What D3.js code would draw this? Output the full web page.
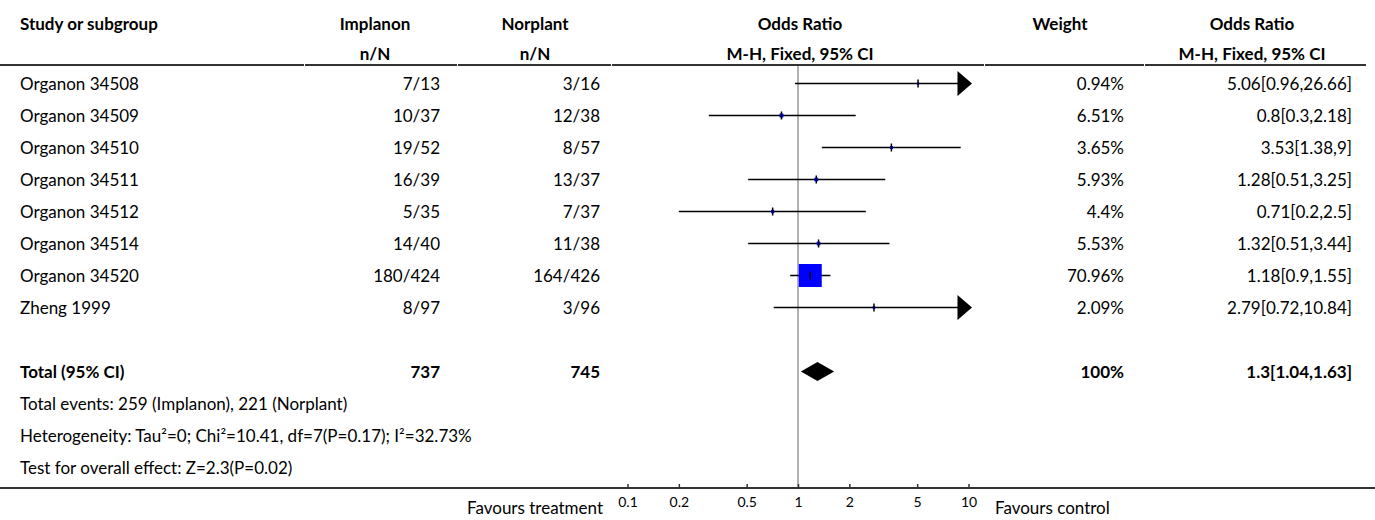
<!DOCTYPE html>
<html>
<head>
<meta charset="utf-8">
<script src="https://cdn.jsdelivr.net/npm/d3@7"></script>
<style>
  body { margin: 0; background: #fff; }
  svg { display: block; font-family: Lato, "Noto Sans", sans-serif; }
  .bold { font-weight: bold; }
  .tick text { font-size: 14px; font-family: Lato, sans-serif; fill: #000; }
</style>
</head>
<body>
<svg id="chart"></svg>
<script>
  // data
  var studies = ["Organon 34508", "Organon 34509", "Organon 34510", "Organon 34511",
    "Organon 34512", "Organon 34514", "Organon 34520", "Zheng 1999"];
  var implanonEvents = [7, 10, 19, 16, 5, 14, 180, 8];
  var implanonTotals = [13, 37, 52, 39, 35, 40, 424, 97];
  var norplantEvents = [3, 12, 8, 13, 7, 11, 164, 3];
  var norplantTotals = [16, 38, 57, 37, 37, 38, 426, 96];
  var oddsRatios = [5.06, 0.8, 3.53, 1.28, 0.71, 1.32, 1.18, 2.79];
  var ciLower = [0.96, 0.3, 1.38, 0.51, 0.2, 0.51, 0.9, 0.72];
  var ciUpper = [26.66, 2.18, 9, 3.25, 2.5, 3.44, 1.55, 10.84];
  var weights = [0.94, 6.51, 3.65, 5.93, 4.4, 5.53, 70.96, 2.09];

  var total = { label: "Total (95% CI)", implanon: 737, norplant: 745, weight: 100, or: 1.3, lo: 1.04, hi: 1.63 };
  var footnotes = [
    "Total events: 259 (Implanon), 221 (Norplant)",
    "Heterogeneity: Tau\u00b2=0; Chi\u00b2=10.41, df=7(P=0.17); I\u00b2=32.73%",
    "Test for overall effect: Z=2.3(P=0.02)"
  ];
  var axisTicks = [0.1, 0.2, 0.5, 1, 2, 5, 10];

  var width = 1375, height = 520;
  var fontSize = 17;
  var boldSize = 17;

  var svg = d3.select("#chart").attr("width", width).attr("height", height);

  // columns
  var colStudy = 20;
  var colImplanon = { center: 375, right: 440 };
  var colNorplant = { center: 535, right: 600 };
  var colPlot = { center: 800 };
  var colWeight = { center: 1060, right: 1124 };
  var colOR = { center: 1252, right: 1352 };

  var x = d3.scaleLog().domain([0.1, 10]).range([627.5, 968.5]);
  var rowY = d3.scaleLinear().domain([0, 1]).range([83.5, 115.5]);
  var boxSize = d3.scaleLinear().domain([0, 71]).range([2, 23]);

  function text(g, str, xPos, yPos, anchor, bold) {
    return g.append("text")
      .attr("x", xPos)
      .attr("y", yPos)
      .attr("text-anchor", anchor)
      .attr("dominant-baseline", "central")
      .attr("font-size", bold ? boldSize : fontSize)
      .attr("fill", "#000")
      .classed("bold", !!bold)
      .text(str);
  }

  /***** header *****/
  var header = svg.append("g");
  text(header, "Study or subgroup", colStudy, 23, "start", true);
  text(header, "Implanon", colImplanon.center, 23, "middle", true);
  text(header, "n/N", colImplanon.center, 53, "middle", true);
  text(header, "Norplant", colNorplant.center, 23, "middle", true);
  text(header, "n/N", colNorplant.center, 53, "middle", true);
  text(header, "Odds Ratio", colPlot.center, 23, "middle", true);
  text(header, "M-H, Fixed, 95% CI", colPlot.center, 53, "middle", true);
  text(header, "Weight", colWeight.center, 23, "middle", true);
  text(header, "Odds Ratio", colOR.center, 23, "middle", true);
  text(header, "M-H, Fixed, 95% CI", colOR.center, 53, "middle", true);

  var splits = [0, 305, 458, 612, 985, 1145, 1367];
  header.selectAll("line.sep")
    .data(d3.pairs(splits))
    .enter()
    .append("line")
    .attr("x1", function (d) { return d[0]; })
    .attr("x2", function (d) { return d[1] - 1; })
    .attr("y1", 65)
    .attr("y2", 65)
    .attr("stroke", "#333")
    .attr("stroke-width", 2);

  // reference line at OR = 1
  svg.append("line")
    .attr("x1", x(1)).attr("x2", x(1))
    .attr("y1", 66).attr("y2", 488)
    .attr("stroke", "#999")
    .attr("stroke-width", 1.5);

  /***** study rows *****/
  var rows = svg.append("g").selectAll("g.row")
    .data(studies)
    .enter()
    .append("g")
    .attr("class", "row");

  rows.each(function (name, i) {
    var g = d3.select(this);
    var y = rowY(i);
    text(g, name, colStudy, y, "start");
    text(g, implanonEvents[i] + "/" + implanonTotals[i], colImplanon.right, y, "end");
    text(g, norplantEvents[i] + "/" + norplantTotals[i], colNorplant.right, y, "end");
    text(g, weights[i] + "%", colWeight.right, y, "end");
    text(g, oddsRatios[i] + "[" + ciLower[i] + "," + ciUpper[i] + "]", colOR.right, y, "end");

    var clipped = ciUpper[i] > x.domain()[1];
    var xEnd = clipped ? x(10) - 10 : x(ciUpper[i]);
    g.append("line")
      .attr("x1", x(Math.max(ciLower[i], 0.1)))
      .attr("x2", xEnd)
      .attr("y1", y).attr("y2", y)
      .attr("stroke", "#000")
      .attr("stroke-width", 1.5);
    if (clipped) {
      g.append("path")
        .attr("d", "M" + (x(10) - 11) + "," + (y - 12.5) + "L" + (x(10) + 3.5) + "," + y +
          "L" + (x(10) - 11) + "," + (y + 12.5) + "Z")
        .attr("fill", "#000");
    }
    var s = boxSize(weights[i]);
    g.append("rect")
      .attr("x", x(oddsRatios[i]) - s / 2)
      .attr("y", y - s / 2)
      .attr("width", s)
      .attr("height", s)
      .attr("fill", "#0000ff");
    g.append("line")
      .attr("x1", x(oddsRatios[i])).attr("x2", x(oddsRatios[i]))
      .attr("y1", y - 4).attr("y2", y + 4)
      .attr("stroke", "#000")
      .attr("stroke-width", 1.5);
  });

  /***** total *****/
  var totalY = rowY(9);
  var tg = svg.append("g");
  text(tg, total.label, colStudy, totalY, "start", true);
  text(tg, total.implanon, colImplanon.right, totalY, "end", true);
  text(tg, total.norplant, colNorplant.right, totalY, "end", true);
  text(tg, total.weight + "%", colWeight.right, totalY, "end", true);
  text(tg, total.or + "[" + total.lo + "," + total.hi + "]", colOR.right, totalY, "end", true);
  tg.append("path")
    .attr("d", "M" + x(total.lo) + "," + totalY +
      "L" + x(total.or) + "," + (totalY - 9.5) +
      "L" + x(total.hi) + "," + totalY +
      "L" + x(total.or) + "," + (totalY + 9.5) + "Z")
    .attr("fill", "#000");

  footnotes.forEach(function (f, i) {
    text(svg, f, colStudy, rowY(10 + i), "start");
  });

  /***** axis *****/
  var axisY = 488;
  svg.append("line")
    .attr("x1", 0).attr("x2", width)
    .attr("y1", axisY).attr("y2", axisY)
    .attr("stroke", "#333")
    .attr("stroke-width", 2);

  var xAxis = d3.axisBottom(x)
    .tickValues(axisTicks)
    .tickFormat(d3.format("~g"))
    .tickSizeInner(-4)
    .tickSizeOuter(0)
    .tickPadding(9);

  var axisG = svg.append("g")
    .attr("transform", "translate(0," + axisY + ")")
    .call(xAxis);
  axisG.select(".domain").remove();
  axisG.selectAll(".tick line").attr("stroke", "#333").attr("stroke-width", 1.5);
  axisG.selectAll(".tick text").style("font-size", "14px");

  text(svg, "Favours treatment", 603, 507, "end");
  text(svg, "Favours control", 995, 507, "start");
</script>
</body>
</html>
